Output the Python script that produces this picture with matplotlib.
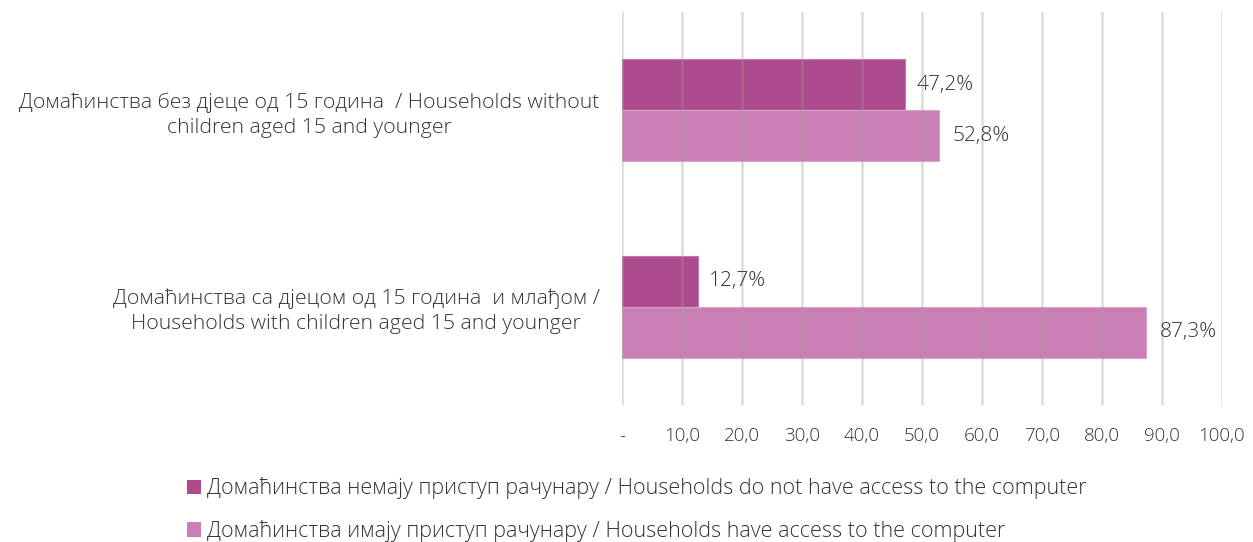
import matplotlib.pyplot as plt
from matplotlib.patches import Patch
import numpy as np

plt.rcParams['font.family'] = ['Open Sans', 'DejaVu Sans']

categories = [
    "Домаћинства без дјеце од 15 година  / Households without\nchildren aged 15 and younger",
    "Домаћинства са дјецом од 15 година  и млађом /\nHouseholds with children aged 15 and younger",
]
no_access = [47.2, 12.7]
with_access = [52.8, 87.3]
series_labels = [
    "Домаћинства немају приступ рачунару / Households do not have access to the computer",
    "Домаћинства имају приступ рачунару / Households have access to the computer",
]
xticks = np.arange(0, 101, 10)
xtick_labels = ["-"] + [f"{v:.1f}".replace(".", ",") for v in xticks[1:]]

dark = "#ae4b8e"
light = "#c97fb5"
txt = "#333333"

fig = plt.figure(figsize=(12.53, 5.42), dpi=100)
ax = fig.add_axes([0.4964, 0.2528, 0.4788, 0.725])

y = np.arange(len(categories))
h = 0.26
ax.barh(y - h / 2, no_access, height=h, color=dark, edgecolor="#c27aac", linewidth=0.8, zorder=2)
ax.barh(y + h / 2, with_access, height=h, color=light, edgecolor="#d9a6ca", linewidth=0.8, zorder=2)

for yi, v in zip(y - h / 2, no_access):
    ax.annotate(f"{v:.1f}%".replace(".", ","), (v, yi), xytext=(8, 0),
                textcoords="offset points", va="center", ha="left",
                fontsize=15, color=txt, fontweight="light")
for yi, v in zip(y + h / 2, with_access):
    ax.annotate(f"{v:.1f}%".replace(".", ","), (v, yi), xytext=(10, 0),
                textcoords="offset points", va="center", ha="left",
                fontsize=15, color=txt, fontweight="light")

ax.set_xlim(0, 100)
ax.set_ylim(1.5, -0.5)
ax.set_xticks(xticks)
ax.set_xticklabels(xtick_labels, fontsize=13.5, color=txt, fontweight="light")
ax.set_yticks(y)
ax.set_yticklabels(categories, fontsize=15.3, color=txt, fontweight="light",
                   multialignment="center", linespacing=1.3)
ax.tick_params(axis="x", length=0, pad=16)
ax.tick_params(axis="y", length=0, pad=16)

ax.set_axisbelow(False)
ax.grid(axis="x", color="#9a9a9a", alpha=0.35, linewidth=1.8, zorder=3)
for s in ax.spines.values():
    s.set_visible(False)

handles = [Patch(facecolor=dark), Patch(facecolor=light)]
fig.legend(handles, series_labels, loc="upper left", bbox_to_anchor=(0.142, 0.135),
           frameon=False, handlelength=0.65, handleheight=0.65,
           handletextpad=0.3, labelspacing=0.95, borderaxespad=0,
           labelcolor=txt, prop={"weight": "light", "size": 15.5})

fig.savefig("out.png", dpi=100)
